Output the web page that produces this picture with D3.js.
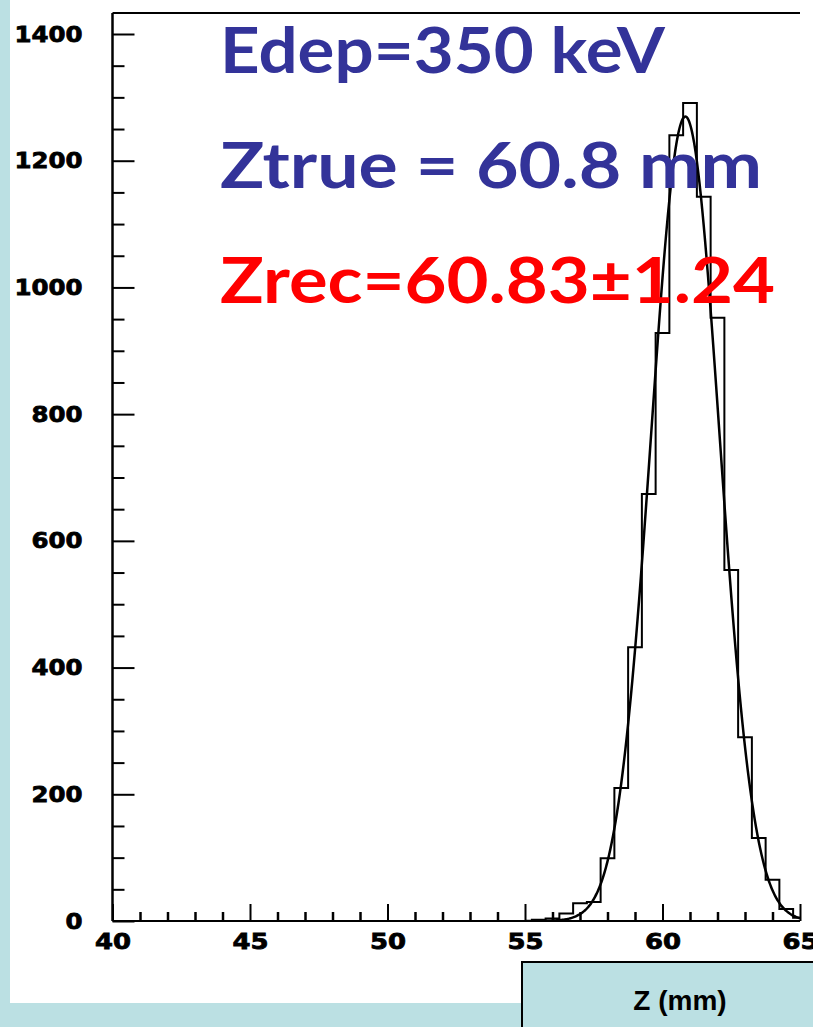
<!DOCTYPE html>
<html>
<head>
<meta charset="utf-8">
<script src="https://cdn.jsdelivr.net/npm/d3@7/dist/d3.min.js"></script>
<style>
  html, body { margin: 0; padding: 0; background: #BBE0E3; }
  svg { display: block; }
</style>
</head>
<body>
<script>
// Reconstructed z position histogram (bin width 0.5 mm, centres listed)
const binCenters = [55.5, 56.0, 56.5, 57.0, 57.5, 58.0, 58.5, 59.0, 59.5, 60.0,
                    60.5, 61.0, 61.5, 62.0, 62.5, 63.0, 63.5, 64.0, 64.5, 65.0];
const binCounts  = [2, 4, 12, 28, 30, 99, 210, 432, 674, 928,
                    1240, 1291, 1143, 952, 554, 290, 131, 65, 19, 5];
const binWidth = 0.5;

// Gaussian fit parameters (mean and sigma as quoted on the plot)
const fitMean = 60.83;
const fitSigma = 1.24;
const fitAmplitude = 1270;

// Axis ticks
const xMajorTicks = [40, 45, 50, 55, 60, 65];
const yMajorTicks = [0, 200, 400, 600, 800, 1000, 1200, 1400];

// Annotation lines
const notes = [
  { text: "Edep=350 keV",     color: "#333399" },
  { text: "Ztrue = 60.8 mm",  color: "#333399" },
  { text: "Zrec=60.83±1.24",  color: "#ff0000" }
];
const axisTitle = "Z (mm)";

const W = 813, H = 1027;
const svg = d3.select("body").append("svg").attr("width", W).attr("height", H);

// backgrounds
svg.append("rect").attr("x", 0).attr("y", 0).attr("width", W).attr("height", H).attr("fill", "#BBE0E3");
svg.append("rect").attr("x", 10).attr("y", 0).attr("width", W - 10).attr("height", 1003).attr("fill", "#ffffff");

const x = d3.scaleLinear().domain([40, 65]).range([112.5, 800]);
const y = d3.scaleLinear().domain([0, 1400]).range([921, 34]);
const yTop = 1433;

svg.append("clipPath").attr("id", "plotClip")
  .append("rect").attr("x", x(40)).attr("y", y(yTop)).attr("width", x(65) - x(40)).attr("height", y(0) - y(yTop));

const plot = svg.append("g").attr("clip-path", "url(#plotClip)");

// histogram outline as a step path
const steps = [];
binCenters.forEach((c, i) => {
  steps.push([c - binWidth / 2, binCounts[i]]);
  steps.push([c + binWidth / 2, binCounts[i]]);
});
const first = binCenters[0] - binWidth / 2;
const last = binCenters[binCenters.length - 1] + binWidth / 2;
const histPts = [[first, 0], ...steps, [last, 0]];
plot.append("path")
  .attr("d", d3.line().x(d => x(d[0])).y(d => y(d[1]))(histPts))
  .attr("fill", "none").attr("stroke", "#000").attr("stroke-width", 2);

// gaussian fit curve
const fitX = d3.range(55, 65.001, 0.05);
const gauss = z => fitAmplitude * Math.exp(-0.5 * Math.pow((z - fitMean) / fitSigma, 2));
plot.append("path")
  .attr("d", d3.line().curve(d3.curveBasis).x(d => x(d)).y(d => y(gauss(d)))(fitX))
  .attr("fill", "none").attr("stroke", "#000").attr("stroke-width", 2.5);

// frame lines
const frame = svg.append("g").attr("stroke", "#000").attr("fill", "none");
frame.append("line").attr("x1", x(40)).attr("x2", x(40)).attr("y1", y(0)).attr("y2", y(yTop)).attr("stroke-width", 2.5);
frame.append("line").attr("x1", x(40)).attr("x2", x(65)).attr("y1", y(0)).attr("y2", y(0)).attr("stroke-width", 2);
frame.append("line").attr("x1", x(40)).attr("x2", x(65)).attr("y1", y(yTop)).attr("y2", y(yTop)).attr("stroke-width", 2);

const labelFont = "'DejaVu Sans', sans-serif";

// y axis: major + minor ticks pointing into the plot
const yAxis = svg.append("g").attr("transform", `translate(${x(40)},0)`)
  .call(d3.axisLeft(y).tickValues(yMajorTicks).tickSize(-22).tickSizeOuter(0).tickPadding(30).tickFormat(d3.format("d")));
yAxis.select(".domain").remove();
yAxis.selectAll(".tick line").attr("stroke-width", 2);
yAxis.selectAll(".tick text")
  .attr("font-family", labelFont).attr("font-weight", "bold").attr("font-size", 22)
  .attr("fill", "#000").attr("stroke", "#000").attr("stroke-width", 0.8)
  .attr("textLength", d => String(d).length * 17).attr("lengthAdjust", "spacingAndGlyphs");

const yMinor = svg.append("g").attr("transform", `translate(${x(40)},0)`)
  .call(d3.axisLeft(y).tickValues(d3.range(0, 1401, 50).filter(v => v % 200 !== 0)).tickSize(-12).tickSizeOuter(0).tickFormat(""));
yMinor.select(".domain").remove();
yMinor.selectAll(".tick line").attr("stroke-width", 2);

// x axis
const xAxis = svg.append("g").attr("transform", `translate(0,${y(0)})`)
  .call(d3.axisBottom(x).tickValues(xMajorTicks).tickSize(-17).tickSizeOuter(0).tickPadding(12).tickFormat(d3.format("d")));
xAxis.select(".domain").remove();
xAxis.selectAll(".tick line").attr("stroke-width", 2);
xAxis.selectAll(".tick text")
  .attr("font-family", labelFont).attr("font-weight", "bold").attr("font-size", 22)
  .attr("fill", "#000").attr("stroke", "#000").attr("stroke-width", 0.8)
  .attr("textLength", d => String(d).length * 18).attr("lengthAdjust", "spacingAndGlyphs");

const xMinor = svg.append("g").attr("transform", `translate(0,${y(0)})`)
  .call(d3.axisBottom(x).tickValues(d3.range(41, 65, 1).filter(v => v % 5 !== 0)).tickSize(-9).tickSizeOuter(0).tickFormat(""));
xMinor.select(".domain").remove();
xMinor.selectAll(".tick line").attr("stroke-width", 2.5);

// annotations
const noteWidths = [445, 542, 555];
const noteBaselines = [73, 188, 303];
svg.selectAll("text.note").data(notes).join("text")
  .attr("class", "note")
  .attr("x", 220).attr("y", (d, i) => noteBaselines[i])
  .attr("font-family", "Lato, 'Open Sans', sans-serif").attr("font-weight", 700)
  .attr("font-size", 64)
  .attr("fill", d => d.color)
  .attr("textLength", (d, i) => noteWidths[i]).attr("lengthAdjust", "spacingAndGlyphs")
  .text(d => d.text);

// axis title box
svg.append("rect").attr("x", 522).attr("y", 962).attr("width", 300).attr("height", 80)
  .attr("fill", "#BBE0E3").attr("stroke", "#000").attr("stroke-width", 2);
svg.append("text").attr("x", 680).attr("y", 1010).attr("text-anchor", "middle")
  .attr("font-family", "'Liberation Sans', Arial, sans-serif").attr("font-weight", "bold").attr("font-size", 28)
  .attr("fill", "#000").text(axisTitle);
</script>
</body>
</html>
